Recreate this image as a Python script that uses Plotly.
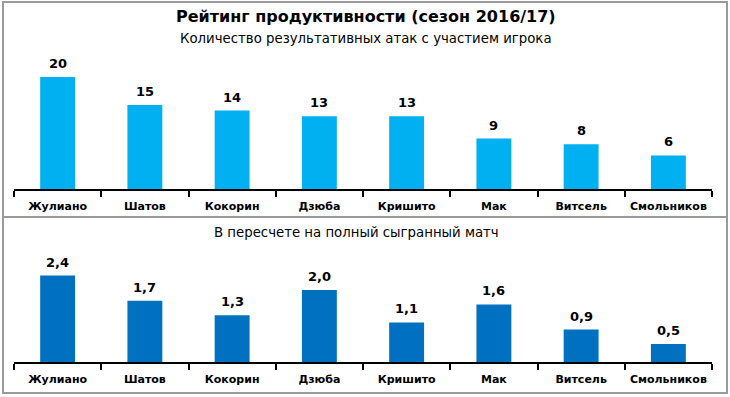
import plotly.graph_objects as go

players = ["Жулиано", "Шатов", "Кокорин", "Дзюба", "Кришито", "Мак", "Витсель", "Смольников"]
attacks = [20, 15, 14, 13, 13, 9, 8, 6]
per_match = [2.4, 1.7, 1.3, 2.0, 1.1, 1.6, 0.9, 0.5]

title_text = "Рейтинг продуктивности (сезон 2016/17)"
subtitle_top = "Количество результативных атак с участием игрока"
subtitle_bottom = "В пересчете на полный сыгранный матч"

W, H = 730, 397
L, R = 14, 712
BOLD = "DejaVu Sans"
REG = "DejaVu Sans"


def py(px):
    return 1 - px / H


def pxx(px):
    return (px - L) / (R - L)


fig = go.Figure()
fig.add_trace(go.Bar(x=players, y=attacks, marker=dict(color="#00B0F0", line=dict(width=0)),
                     width=0.4, xaxis="x", yaxis="y", hoverinfo="skip"))
fig.add_trace(go.Bar(x=players, y=per_match, marker=dict(color="#0070C0", line=dict(width=0)),
                     width=0.4, xaxis="x2", yaxis="y2", hoverinfo="skip"))

annotations = []
for p, v in zip(players, attacks):
    annotations.append(dict(x=p, y=v, xref="x", yref="y", text=f"<b>{v}</b>", showarrow=False,
                            yanchor="bottom", yshift=4, font=dict(family=BOLD, size=13, color="black")))
for p, v in zip(players, per_match):
    annotations.append(dict(x=p, y=v, xref="x2", yref="y2", text="<b>" + f"{v:.1f}".replace(".", ",") + "</b>",
                            showarrow=False, yanchor="bottom", yshift=4,
                            font=dict(family=BOLD, size=13, color="black")))

annotations.append(dict(x=pxx(366), y=py(16), xref="paper", yref="paper", text="<b>" + title_text + "</b>",
                        showarrow=False, xanchor="center", yanchor="middle",
                        font=dict(family=BOLD, size=16, color="black")))
annotations.append(dict(x=pxx(366), y=py(39), xref="paper", yref="paper", text=subtitle_top,
                        showarrow=False, xanchor="center", yanchor="middle",
                        font=dict(family=REG, size=13.3, color="black")))
annotations.append(dict(x=pxx(356), y=py(232), xref="paper", yref="paper", text=subtitle_bottom,
                        showarrow=False, xanchor="center", yanchor="middle",
                        font=dict(family=REG, size=13.3, color="black")))

xaxis_common = dict(type="category", range=[-0.5, 7.5], showline=True, linecolor="black", linewidth=1.5,
                    ticks="outside", tickson="boundaries", ticklen=6, tickwidth=1.5, tickcolor="black",
                    showgrid=False, zeroline=False, fixedrange=True, tickangle=0, automargin=False,
                    ticklabelstandoff=6,
                    tickfont=dict(family=BOLD, size=11, color="black"),
                    tickvals=players, ticktext=["<b>" + p + "</b>" for p in players])

fig.update_layout(
    width=W, height=H,
    margin=dict(l=L, r=W - R, t=0, b=0, autoexpand=False),
    paper_bgcolor="white", plot_bgcolor="white",
    showlegend=False,
    xaxis=dict(domain=[0, 1], anchor="y", **xaxis_common),
    xaxis2=dict(domain=[0, 1], anchor="y2", **xaxis_common),
    yaxis=dict(domain=[py(189), py(60)], range=[0, 129 / 5.6], visible=False, fixedrange=True),
    yaxis2=dict(domain=[py(362), py(245)], range=[0, 117 / 36.0], visible=False, fixedrange=True),
    annotations=annotations,
)

fig.add_shape(type="rect", xref="paper", yref="paper", x0=pxx(3), x1=pxx(727), y0=py(393), y1=py(2),
              line=dict(color="#9a9a9a", width=2))
fig.add_shape(type="line", xref="paper", yref="paper", x0=pxx(3), x1=pxx(727), y0=py(217), y1=py(217),
              line=dict(color="#9a9a9a", width=2))

fig.write_html("out.html", config={"displayModeBar": False},
               post_script="document.body.style.margin='0';document.body.style.overflow='hidden';")
